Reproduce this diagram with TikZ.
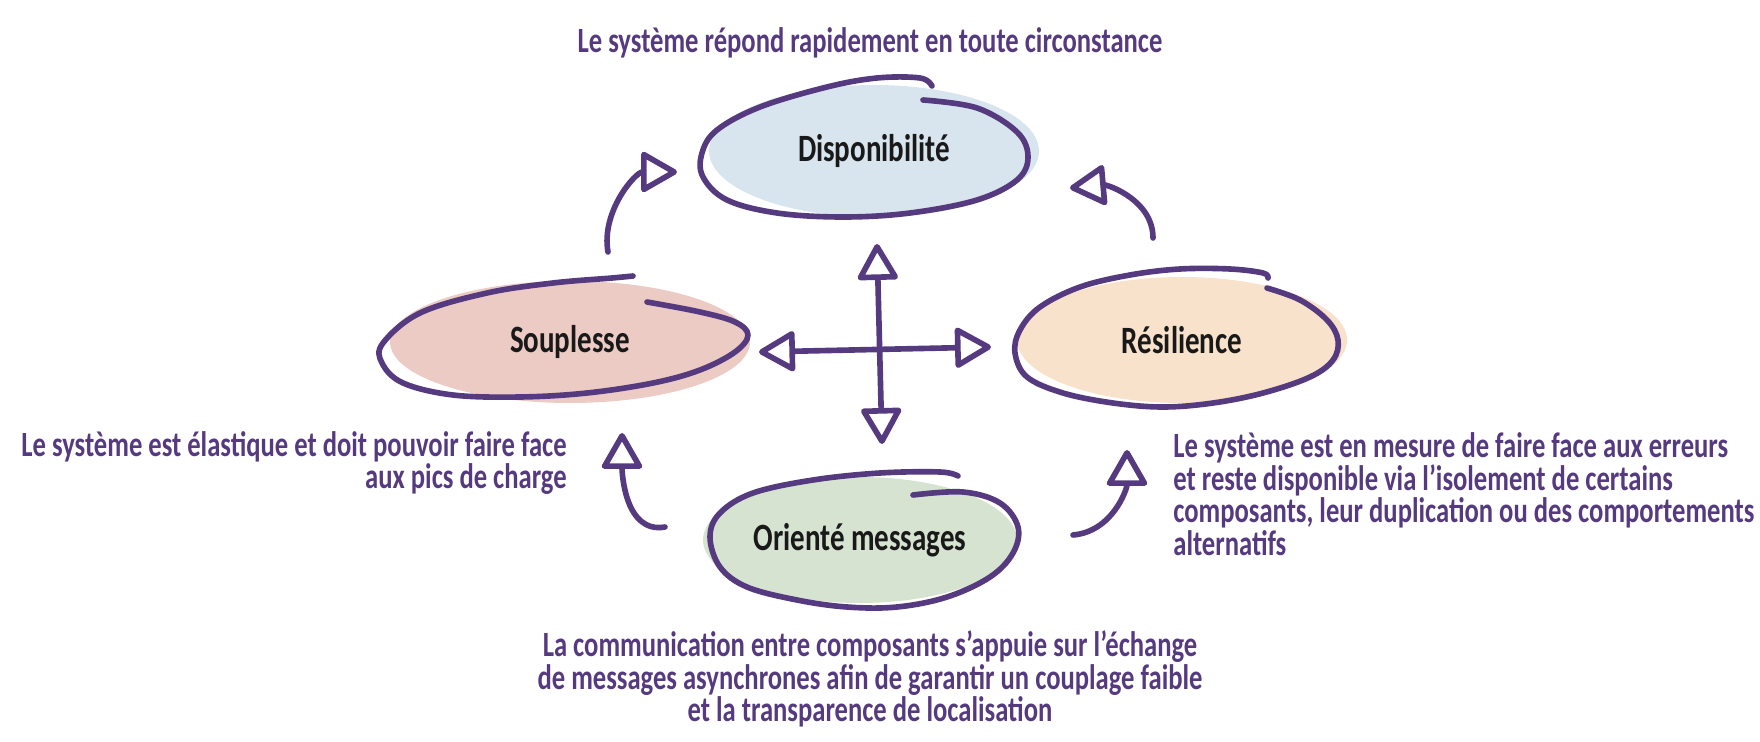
\documentclass[tikz,border=0pt]{standalone}
\usepackage{fontspec}
\setmainfont{Carlito}[FakeStretch=0.75]
\usetikzlibrary{arrows.meta,shapes.geometric}
\definecolor{ink}{RGB}{86,58,127}
\definecolor{dispofill}{RGB}{216,229,238}
\definecolor{soupfill}{RGB}{235,203,196}
\definecolor{resifill}{RGB}{248,226,203}
\definecolor{msgfill}{RGB}{215,227,209}
\begin{document}
\begin{tikzpicture}[x=0.02cm,y=-0.02cm,
  >={Triangle[open,round,length=0.78cm,width=0.86cm]},
  blob/.style={shape=ellipse,inner sep=0pt,text=black!90,font=\fontsize{22}{24}\selectfont\bfseries},
  ring/.style={draw=ink,line width=3.2pt,line cap=round,line join=round},
  arr/.style={draw=ink,line width=3.2pt,line cap=round,line join=round},
  note/.style={inner sep=0pt,text=ink,font=\fontsize{20.2}{18.5}\selectfont\bfseries}]
  \useasboundingbox (0,0) rectangle (1760,742);

  \node[blob,fill=dispofill,minimum width=6.6cm,minimum height=2.64cm] (dispo) at (874,151) {Disponibilité};
  \node[blob,fill=soupfill,minimum width=7.2cm,minimum height=2.44cm] (soup) at (570,342) {Souplesse};
  \node[blob,fill=resifill,minimum width=6.6cm,minimum height=2.52cm] (resi) at (1182,340) {Résilience};
  \node[blob,fill=msgfill,minimum width=6.28cm,minimum height=2.52cm] (msg) at (860,540) {Orienté messages};

  \draw[ring] plot[smooth,tension=0.6] coordinates {(923,100) (977,108) (1017,132) (1028,157) (1017,180) (977,200) (910,213) (843,217) (777,213) (727,200) (703,177) (702,153) (717,130) (760,107) (827,87) (877,78) (920,78) (932,86)};
  \draw[ring] plot[smooth,tension=0.6] coordinates {(647,302) (700,312) (735,322) (748,335) (735,352) (700,370) (653,383) (587,393) (520,397) (453,395) (403,383) (382,363) (383,343) (420,313) (487,293) (553,283) (612,278) (633,276)};
  \draw[ring] plot[smooth,tension=0.6] coordinates {(1267,288) (1300,300) (1327,320) (1338,340) (1333,360) (1310,377) (1263,393) (1213,403) (1163,407) (1113,403) (1063,393) (1027,377) (1015,353) (1020,330) (1040,307) (1080,287) (1130,275) (1180,269) (1230,269) (1263,273) (1268,278)};
  \draw[ring] plot[smooth,tension=0.6] coordinates {(913,495) (963,492) (1000,503) (1018,527) (1013,553) (990,577) (947,597) (897,607) (847,607) (797,600) (747,587) (720,567) (710,537) (720,513) (753,493) (813,480) (880,473) (940,472) (958,476)};

  \coordinate (s1) at (608,252);
  \coordinate (t1) at (677,172);
  \coordinate (s2) at (1153,238);
  \coordinate (t2) at (1070,188);
  \coordinate (s3) at (665,527);
  \coordinate (t3) at (622,433);
  \coordinate (s4) at (1073,535);
  \coordinate (t4) at (1127,450);
  \coordinate (cT) at (877,244);
  \coordinate (cB) at (882,444);
  \coordinate (cL) at (759,352);
  \coordinate (cR) at (991,347);

  \draw[arr,->] (s1) to[out=100,in=180] (t1);
  \draw[arr,->] (s2) to[out=90,in=5] (t2);
  \draw[arr,->] (s3) to[out=190,in=-90] (t3);
  \draw[arr,->] (s4) to[out=5,in=-90] (t4);
  \draw[arr,<->] (cL) -- (cR);
  \draw[arr,<->] (cT) -- (cB);

  \node[note] (topnote) at (870,43) {Le système répond rapidement en toute circonstance};
  \node[note,anchor=east,align=right] (leftnote) at (567,463) {Le système est élastique et doit pouvoir faire face\\aux pics de charge};
  \node[note,anchor=west,align=left] (rightnote) at (1173,494) {Le système est en mesure de faire face aux erreurs\\et reste disponible via l’isolement de certains\\composants, leur duplication ou des comportements\\alternatifs};
  \node[note,align=center] (bottomnote) at (870,679) {La communication entre composants s’appuie sur l’échange\\de messages asynchrones afin de garantir un couplage faible\\et la transparence de localisation};
\end{tikzpicture}
\end{document}
